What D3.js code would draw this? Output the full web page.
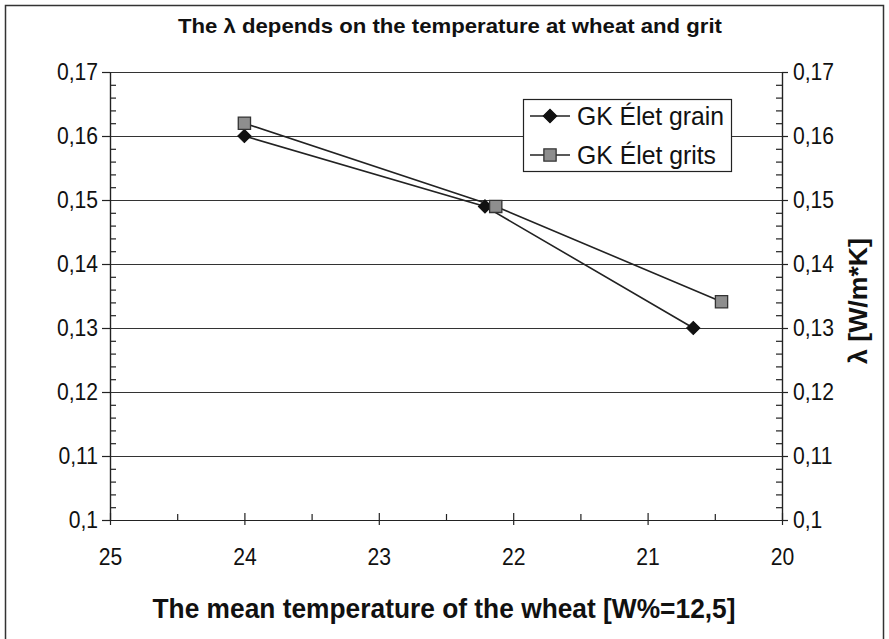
<!DOCTYPE html>
<html>
<head>
<meta charset="utf-8">
<script src="https://cdn.jsdelivr.net/npm/d3@7"></script>
<style>
  body { margin: 0; background: #fff; }
  svg text { font-family: "Liberation Sans", Arial, sans-serif; fill: #111; }
</style>
</head>
<body>
<div id="chart"></div>
<script>
const width = 889, height = 639;

// data
const grainTemp = [24, 22.21, 20.66];
const grainLambda = [0.160, 0.149, 0.130];
const gritsTemp = [24, 22.13, 20.45];
const gritsLambda = [0.162, 0.149, 0.1341];
const seriesNames = ["GK Élet grain", "GK Élet grits"];

const xTicks = [25, 24, 23, 22, 21, 20];
const xTickLabels = ["25", "24", "23", "22", "21", "20"];
const xMinor = [24.5, 23.5, 22.5, 21.5, 20.5];
const yTicks = [0.10, 0.11, 0.12, 0.13, 0.14, 0.15, 0.16, 0.17];
const yTickLabels = ["0,1", "0,11", "0,12", "0,13", "0,14", "0,15", "0,16", "0,17"];
const yMinor = d3.range(0, 36).map(i => 0.10 + i * 0.002).filter((v, i) => i % 5 !== 0);

const margin = {left: 110, top: 72, right: 107, bottom: 119};
const w = width - margin.left - margin.right, h = height - margin.top - margin.bottom;
const ink = "#222";

let svg = d3.select("#chart")
  .append("svg")
  .attr("width", width)
  .attr("height", height);

// outer frame
svg.append("rect")
  .attr("x", 5.5).attr("y", 5.5)
  .attr("width", 878).attr("height", 660)
  .attr("fill", "#fff").attr("stroke", "#333").attr("stroke-width", 1.5);

let x = d3.scaleLinear().domain([25, 20]).range([0, w]);
let y = d3.scaleLinear().domain([0.10, 0.17]).range([h, 0]);

let g = svg.append("g").attr("transform", "translate(" + margin.left + "," + margin.top + ")");

// squeeze text a little: the original font is narrow
function condense(sel, k) {
  sel.each(function() {
    let len = this.getComputedTextLength();
    d3.select(this).attr("textLength", len * k).attr("lengthAdjust", "spacingAndGlyphs");
  });
}

function styleAxis(sel) {
  sel.attr("font-size", 24).attr("font-family", "Liberation Sans, Arial");
  sel.selectAll("path, line").attr("stroke", ink).attr("stroke-width", 1.2);
  sel.selectAll("text").style("font-size", "24px").attr("fill", "#111")
    .call(condense, 0.88);
}

// gridlines
g.append("g")
  .call(d3.axisLeft(y).tickValues(yTicks).tickSize(-w).tickFormat(""))
  .call(s => s.select(".domain").remove())
  .call(s => s.selectAll("line").attr("stroke", "#333").attr("stroke-width", 1.1));

// left axis
g.append("g")
  .call(d3.axisLeft(y).tickValues(yTicks).tickSize(8).tickSizeOuter(0).tickPadding(4)
    .tickFormat((d, i) => yTickLabels[i]))
  .call(styleAxis);
g.append("g")
  .call(d3.axisRight(y).tickValues(yMinor).tickSize(6).tickSizeOuter(0).tickFormat(""))
  .call(styleAxis);

// right axis
g.append("g")
  .attr("transform", "translate(" + w + ",0)")
  .call(d3.axisRight(y).tickValues(yTicks).tickSize(6).tickSizeOuter(0).tickPadding(5)
    .tickFormat((d, i) => yTickLabels[i]))
  .call(styleAxis);
g.append("g")
  .attr("transform", "translate(" + w + ",0)")
  .call(d3.axisLeft(y).tickValues(yMinor).tickSize(6).tickSizeOuter(0).tickFormat(""))
  .call(styleAxis);

// bottom axis
g.append("g")
  .attr("transform", "translate(0," + h + ")")
  .call(d3.axisBottom(x).tickValues(xTicks).tickSize(5).tickSizeOuter(0).tickPadding(23)
    .tickFormat((d, i) => xTickLabels[i]))
  .call(styleAxis);
g.append("g")
  .attr("transform", "translate(0," + h + ")")
  .call(d3.axisTop(x).tickValues(xTicks).tickSize(7).tickSizeOuter(0).tickFormat(""))
  .call(s => s.select(".domain").remove())
  .call(styleAxis);
g.append("g")
  .attr("transform", "translate(0," + h + ")")
  .call(d3.axisTop(x).tickValues(xMinor).tickSize(6).tickSizeOuter(0).tickFormat(""))
  .call(s => s.select(".domain").remove())
  .call(styleAxis);

// lines
let line = d3.line().x(d => x(d[0])).y(d => y(d[1]));
let grain = grainTemp.map((t, i) => [t, grainLambda[i]]);
let grits = gritsTemp.map((t, i) => [t, gritsLambda[i]]);

g.append("path").datum(grain).attr("d", line)
  .attr("fill", "none").attr("stroke", ink).attr("stroke-width", 1.6);
g.append("path").datum(grits).attr("d", line)
  .attr("fill", "none").attr("stroke", ink).attr("stroke-width", 1.6);

let diamond = d3.symbol().type(d3.symbolSquare).size(88);
let square = d3.symbol().type(d3.symbolSquare).size(150);

g.selectAll(".grain").data(grain).enter().append("path")
  .attr("class", "grain")
  .attr("d", diamond)
  .attr("transform", d => "translate(" + x(d[0]) + "," + y(d[1]) + ") rotate(45)")
  .attr("fill", "#111").attr("stroke", "#111");

g.selectAll(".grits").data(grits).enter().append("path")
  .attr("class", "grits")
  .attr("d", square)
  .attr("transform", d => "translate(" + x(d[0]) + "," + y(d[1]) + ")")
  .attr("fill", "#8e8e8e").attr("stroke", "#333").attr("stroke-width", 1.3);

// legend
let legend = svg.append("g").attr("transform", "translate(523,99)");
legend.append("rect")
  .attr("x", 0.5).attr("y", 0.5).attr("width", 208).attr("height", 72)
  .attr("fill", "#fff").attr("stroke", ink).attr("stroke-width", 1.2);
seriesNames.forEach(function(name, i) {
  let ly = 17 + i * 39;
  legend.append("line")
    .attr("x1", 7).attr("x2", 47).attr("y1", ly).attr("y2", ly)
    .attr("stroke", ink).attr("stroke-width", 1.6);
  legend.append("path")
    .attr("d", i === 0 ? diamond() : square())
    .attr("transform", "translate(27," + ly + ")" + (i === 0 ? " rotate(45)" : ""))
    .attr("fill", i === 0 ? "#111" : "#8e8e8e")
    .attr("stroke", i === 0 ? "#111" : "#333").attr("stroke-width", 1.3);
  legend.append("text")
    .attr("x", 54).attr("y", ly + 9)
    .style("font-size", "26px")
    .attr("textLength", i === 0 ? 147 : 139).attr("lengthAdjust", "spacingAndGlyphs")
    .text(name);
});

// titles
svg.append("text")
  .attr("x", 450).attr("y", 33)
  .attr("text-anchor", "middle")
  .style("font-size", "21px").attr("font-weight", "bold")
  .attr("textLength", 544).attr("lengthAdjust", "spacingAndGlyphs")
  .text("The λ depends on the temperature at wheat and grit");

svg.append("text")
  .attr("x", 444).attr("y", 618)
  .attr("text-anchor", "middle")
  .style("font-size", "27px").attr("font-weight", "bold")
  .attr("textLength", 583).attr("lengthAdjust", "spacingAndGlyphs")
  .text("The mean temperature of the wheat [W%=12,5]");

svg.append("text")
  .attr("transform", "translate(867,301) rotate(-90)")
  .attr("text-anchor", "middle")
  .style("font-size", "25px").attr("font-weight", "bold")
  .attr("textLength", 126).attr("lengthAdjust", "spacingAndGlyphs")
  .text("λ [W/m*K]");
</script>
</body>
</html>
